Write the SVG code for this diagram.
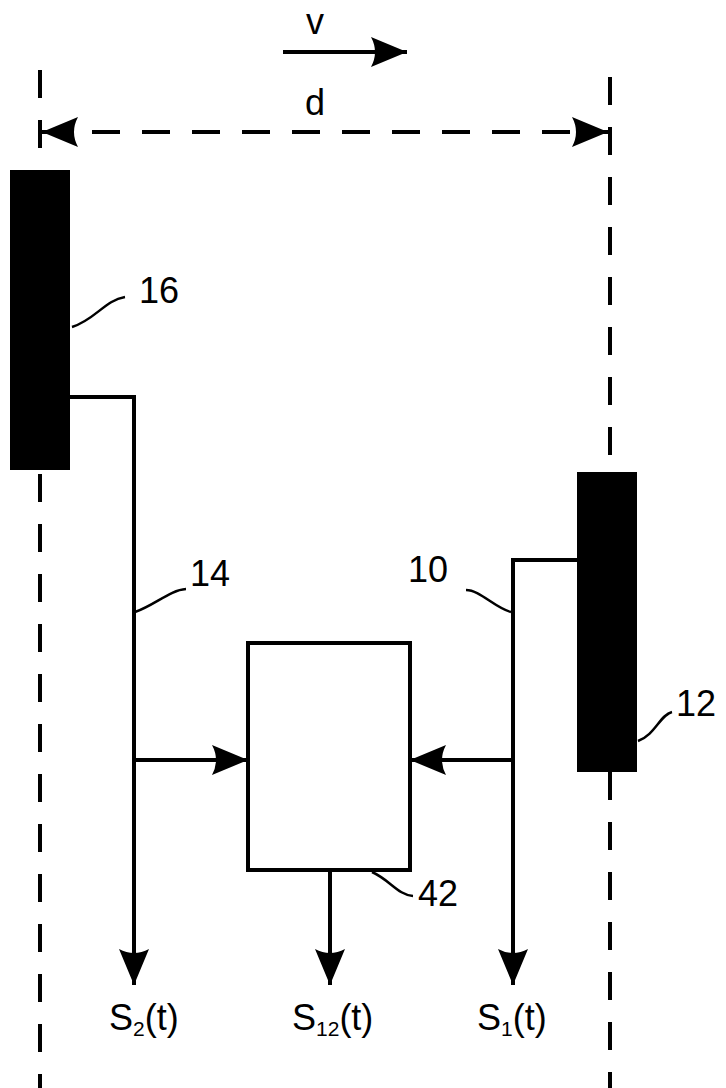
<svg xmlns="http://www.w3.org/2000/svg" width="726" height="1088" viewBox="0 0 726 1088">
<style>
.ln{stroke:#000;stroke-width:4;fill:none}
.dash{stroke:#000;stroke-width:4;fill:none;stroke-dasharray:28 22}
.ld{stroke:#000;stroke-width:2.5;fill:none}
.t{font-family:"Liberation Sans",Arial,sans-serif;font-size:36px;fill:#000}
.s{font-size:21px}
.blk{fill:#000}
</style>
<defs>
<marker id="ah" markerUnits="userSpaceOnUse" markerWidth="40" markerHeight="32" refX="38" refY="16" orient="auto">
<path d="M2,1 Q10,16 2,31 L38,16 Z" fill="#000"/>
</marker>
<marker id="ahs" markerUnits="userSpaceOnUse" markerWidth="40" markerHeight="32" refX="2" refY="16" orient="auto">
<path d="M38,1 Q30,16 38,31 L2,16 Z" fill="#000"/>
</marker>
</defs>
<g id="guides">
<line class="dash" x1="40" y1="70" x2="40" y2="150" stroke-dasharray="27 18 32 100"/>
<line class="dash" x1="40" y1="474" x2="40" y2="1088"/>
<line class="dash" x1="610" y1="77" x2="610" y2="472" stroke-dasharray="11 25 25 25"/>
<line class="dash" x1="610" y1="772" x2="610" y2="1088"/>
</g>
<g id="velocity">
<line class="ln" x1="283" y1="52" x2="407" y2="52" marker-end="url(#ah)"/>
<text class="t" x="306" y="34">v</text>
</g>
<g id="distance">
<line class="dash" x1="42" y1="132" x2="608" y2="132" stroke-dasharray="18 10" marker-start="url(#ahs)" marker-end="url(#ah)"/>
<text class="t" x="305" y="115">d</text>
</g>
<g id="node16">
<rect class="blk" x="10" y="170" width="60" height="300"/>
<path class="ld" d="M72,327 C95,320 105,300 125,297"/>
<text class="t" x="139" y="303">16</text>
</g>
<g id="node12">
<rect class="blk" x="577" y="472" width="60" height="300"/>
<path class="ld" d="M638,741 C655,735 660,715 672,712"/>
<text class="t" x="676" y="716">12</text>
</g>
<g id="node42">
<rect class="ln" x="248" y="643" width="162" height="227"/>
<path class="ld" d="M372,872 C390,880 398,895 413,896"/>
<text class="t" x="418" y="906">42</text>
</g>
<g id="connectors">
<polyline class="ln" points="70,397 134,397 134,985" marker-end="url(#ah)"/>
<line class="ln" x1="134" y1="760" x2="248" y2="760" marker-end="url(#ah)"/>
<polyline class="ln" points="577,560 513,560 513,985" marker-end="url(#ah)"/>
<line class="ln" x1="513" y1="760" x2="410" y2="760" marker-end="url(#ah)"/>
<line class="ln" x1="330" y1="870" x2="330" y2="985" marker-end="url(#ah)"/>
<path class="ld" d="M135,612 C155,605 170,590 186,589"/>
<text class="t" x="190" y="586">14</text>
<path class="ld" d="M511,612 C495,608 480,590 466,590"/>
<text class="t" x="408" y="582">10</text>
</g>
<g id="outputs">
<text class="t" x="109" y="1030">S<tspan class="s" dy="6">2</tspan><tspan dy="-6">(t)</tspan></text>
<text class="t" x="292" y="1030">S<tspan class="s" dy="6">12</tspan><tspan dy="-6">(t)</tspan></text>
<text class="t" x="477" y="1030">S<tspan class="s" dy="6">1</tspan><tspan dy="-6">(t)</tspan></text>
</g>
</svg>
